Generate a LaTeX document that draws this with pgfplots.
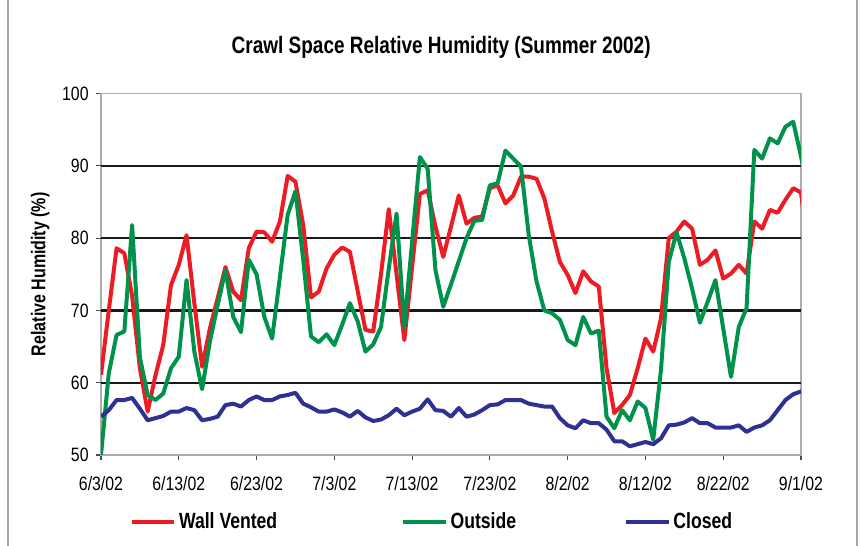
\documentclass[border=0pt]{standalone}
\usepackage{fontspec}
\setmainfont{Liberation Sans}[FakeStretch=0.8]
\newfontfamily\tickfont{Liberation Sans}[FakeStretch=0.82]
\usepackage{pgfplots}
\pgfplotsset{compat=1.18}
\usepackage{pgfplotstable}
\definecolor{cred}{HTML}{ED1C24}
\definecolor{cgreen}{HTML}{00924A}
\definecolor{cblue}{HTML}{2E3192}
\pgfplotstableread{
d wall outside closed
0 61.1 50.0 55.3
1 70.0 61.3 56.2
2 78.6 66.6 57.6
3 77.9 67.1 57.6
4 72.0 81.8 57.9
5 62.0 63.5 56.4
6 56.0 58.3 54.8
7 61.0 57.6 55.1
8 65.2 58.5 55.4
9 73.5 62.0 56.0
10 76.3 63.6 56.0
11 80.4 74.2 56.5
12 71.0 64.3 56.2
13 62.2 59.1 54.8
14 67.5 65.7 55.0
15 71.7 70.7 55.3
16 76.0 75.6 56.9
17 72.6 69.1 57.1
18 71.4 67.0 56.7
19 78.6 77.0 57.6
20 80.9 75.0 58.1
21 80.8 69.1 57.6
22 79.5 66.1 57.6
23 82.3 74.6 58.1
24 88.6 83.2 58.3
25 87.8 86.5 58.6
26 81.8 77.0 57.1
27 71.8 66.4 56.6
28 72.6 65.6 56.0
29 75.8 66.7 56.0
30 77.7 65.2 56.3
31 78.7 68.0 55.9
32 78.1 71.0 55.3
33 72.7 68.5 56.1
34 67.3 64.3 55.2
35 67.1 65.3 54.7
36 75.0 67.7 54.9
37 84.0 75.8 55.5
38 75.0 83.4 56.4
39 65.9 67.7 55.5
40 76.0 79.5 56.0
41 86.1 91.2 56.4
42 86.6 89.6 57.7
43 81.6 75.6 56.2
44 77.4 70.5 56.1
45 81.6 73.6 55.3
46 85.9 76.8 56.5
47 82.0 80.0 55.3
48 82.8 82.4 55.6
49 83.0 82.5 56.2
50 86.9 87.3 56.9
51 87.3 87.6 57.0
52 84.8 92.1 57.6
53 85.9 91.0 57.6
54 88.5 89.9 57.6
55 88.5 80.4 57.1
56 88.2 74.0 56.9
57 85.5 70.0 56.7
58 80.9 69.6 56.7
59 76.7 68.7 55.1
60 74.9 65.9 54.1
61 72.4 65.2 53.7
62 75.4 69.1 54.8
63 74.0 66.8 54.4
64 73.3 67.2 54.4
65 62.0 55.3 53.5
66 55.8 53.7 51.9
67 56.9 56.2 51.9
68 58.3 54.8 51.2
69 62.0 57.4 51.5
70 66.1 56.5 51.8
71 64.3 52.1 51.5
72 68.9 61.8 52.3
73 80.0 76.7 54.1
74 80.9 80.8 54.2
75 82.3 77.2 54.5
76 81.3 73.0 55.1
77 76.3 68.3 54.4
78 77.0 71.2 54.4
79 78.3 74.2 53.8
80 74.4 67.5 53.8
81 75.1 60.8 53.8
82 76.3 67.7 54.1
83 75.1 70.3 53.2
84 82.3 92.2 53.8
85 81.3 91.0 54.1
86 83.9 93.8 54.8
87 83.5 93.1 56.2
88 85.3 95.4 57.6
89 86.9 96.1 58.4
90 86.3 91.3 58.8
91 78.0 86.0 59.0
}\datatable
\begin{document}
\begin{tikzpicture}
\useasboundingbox (0,0) rectangle (645.75pt,409.5pt);
\draw[gray!70, line width=0.9pt] (6pt,0) -- (6pt,409.5pt);
\draw[gray!70, line width=0.9pt] (642.75pt,0) -- (642.75pt,409.5pt);
\begin{axis}[
  at={(75.75pt,68.25pt)}, anchor=south west,
  scale only axis, width=525pt, height=271.125pt,
  xmin=0, xmax=90, ymin=50, ymax=100,
  clip=true,
  axis background/.style={fill=white},
  axis line style={gray!65, line width=1.3pt},
  tick align=outside, tick pos=left,
  major tick length=3.75pt,
  tick style={gray!60!black, line width=0.8pt},
  xtick={0,10,...,90},
  xticklabels={6/3/02,6/13/02,6/23/02,7/3/02,7/13/02,7/23/02,8/2/02,8/12/02,8/22/02,9/1/02},
  ytick={50,60,...,100},
  extra y ticks={60,70,80,90},
  extra y tick labels={},
  extra y tick style={ymajorgrids=true, major grid style={black!90, line width=1.7pt}},
  /pgf/number format/assume math mode=true,
  ticklabel style={font=\tickfont\fontsize{14.5}{16}\selectfont, text=black},
  xticklabel style={yshift=-8.5pt},
  yticklabel style={xshift=-2pt},
  ylabel={\bfseries Relative Humidity (\%)},
  ylabel style={at={(axis description cs:-0.087,0.5)}, anchor=center, font=\fontsize{15}{17}\selectfont},
  title={\bfseries Crawl Space Relative Humidity (Summer 2002)},
  title style={at={(axis description cs:0.486,1.106)}, anchor=center, font=\fontsize{17.8}{20}\selectfont},
  legend columns=3,
  legend style={at={(axis description cs:0.035,-0.185)}, anchor=west, draw=none, fill=none,
    font=\bfseries\fontsize{16.5}{19}\selectfont,
    /tikz/column 2/.style={column sep=91pt},
    /tikz/column 4/.style={column sep=79pt}},
  legend image code/.code={\draw[#1, line width=3pt] (0pt,0pt) -- (32pt,0pt);},
  every axis plot/.append style={line width=3pt, line join=round},
]
\addplot[cred, no markers] table[x=d, y=wall] {\datatable};
\addlegendentry{Wall Vented}
\addplot[cgreen, no markers] table[x=d, y=outside] {\datatable};
\addlegendentry{Outside}
\addplot[cblue, no markers] table[x=d, y=closed] {\datatable};
\addlegendentry{Closed}
\end{axis}
\end{tikzpicture}
\end{document}
